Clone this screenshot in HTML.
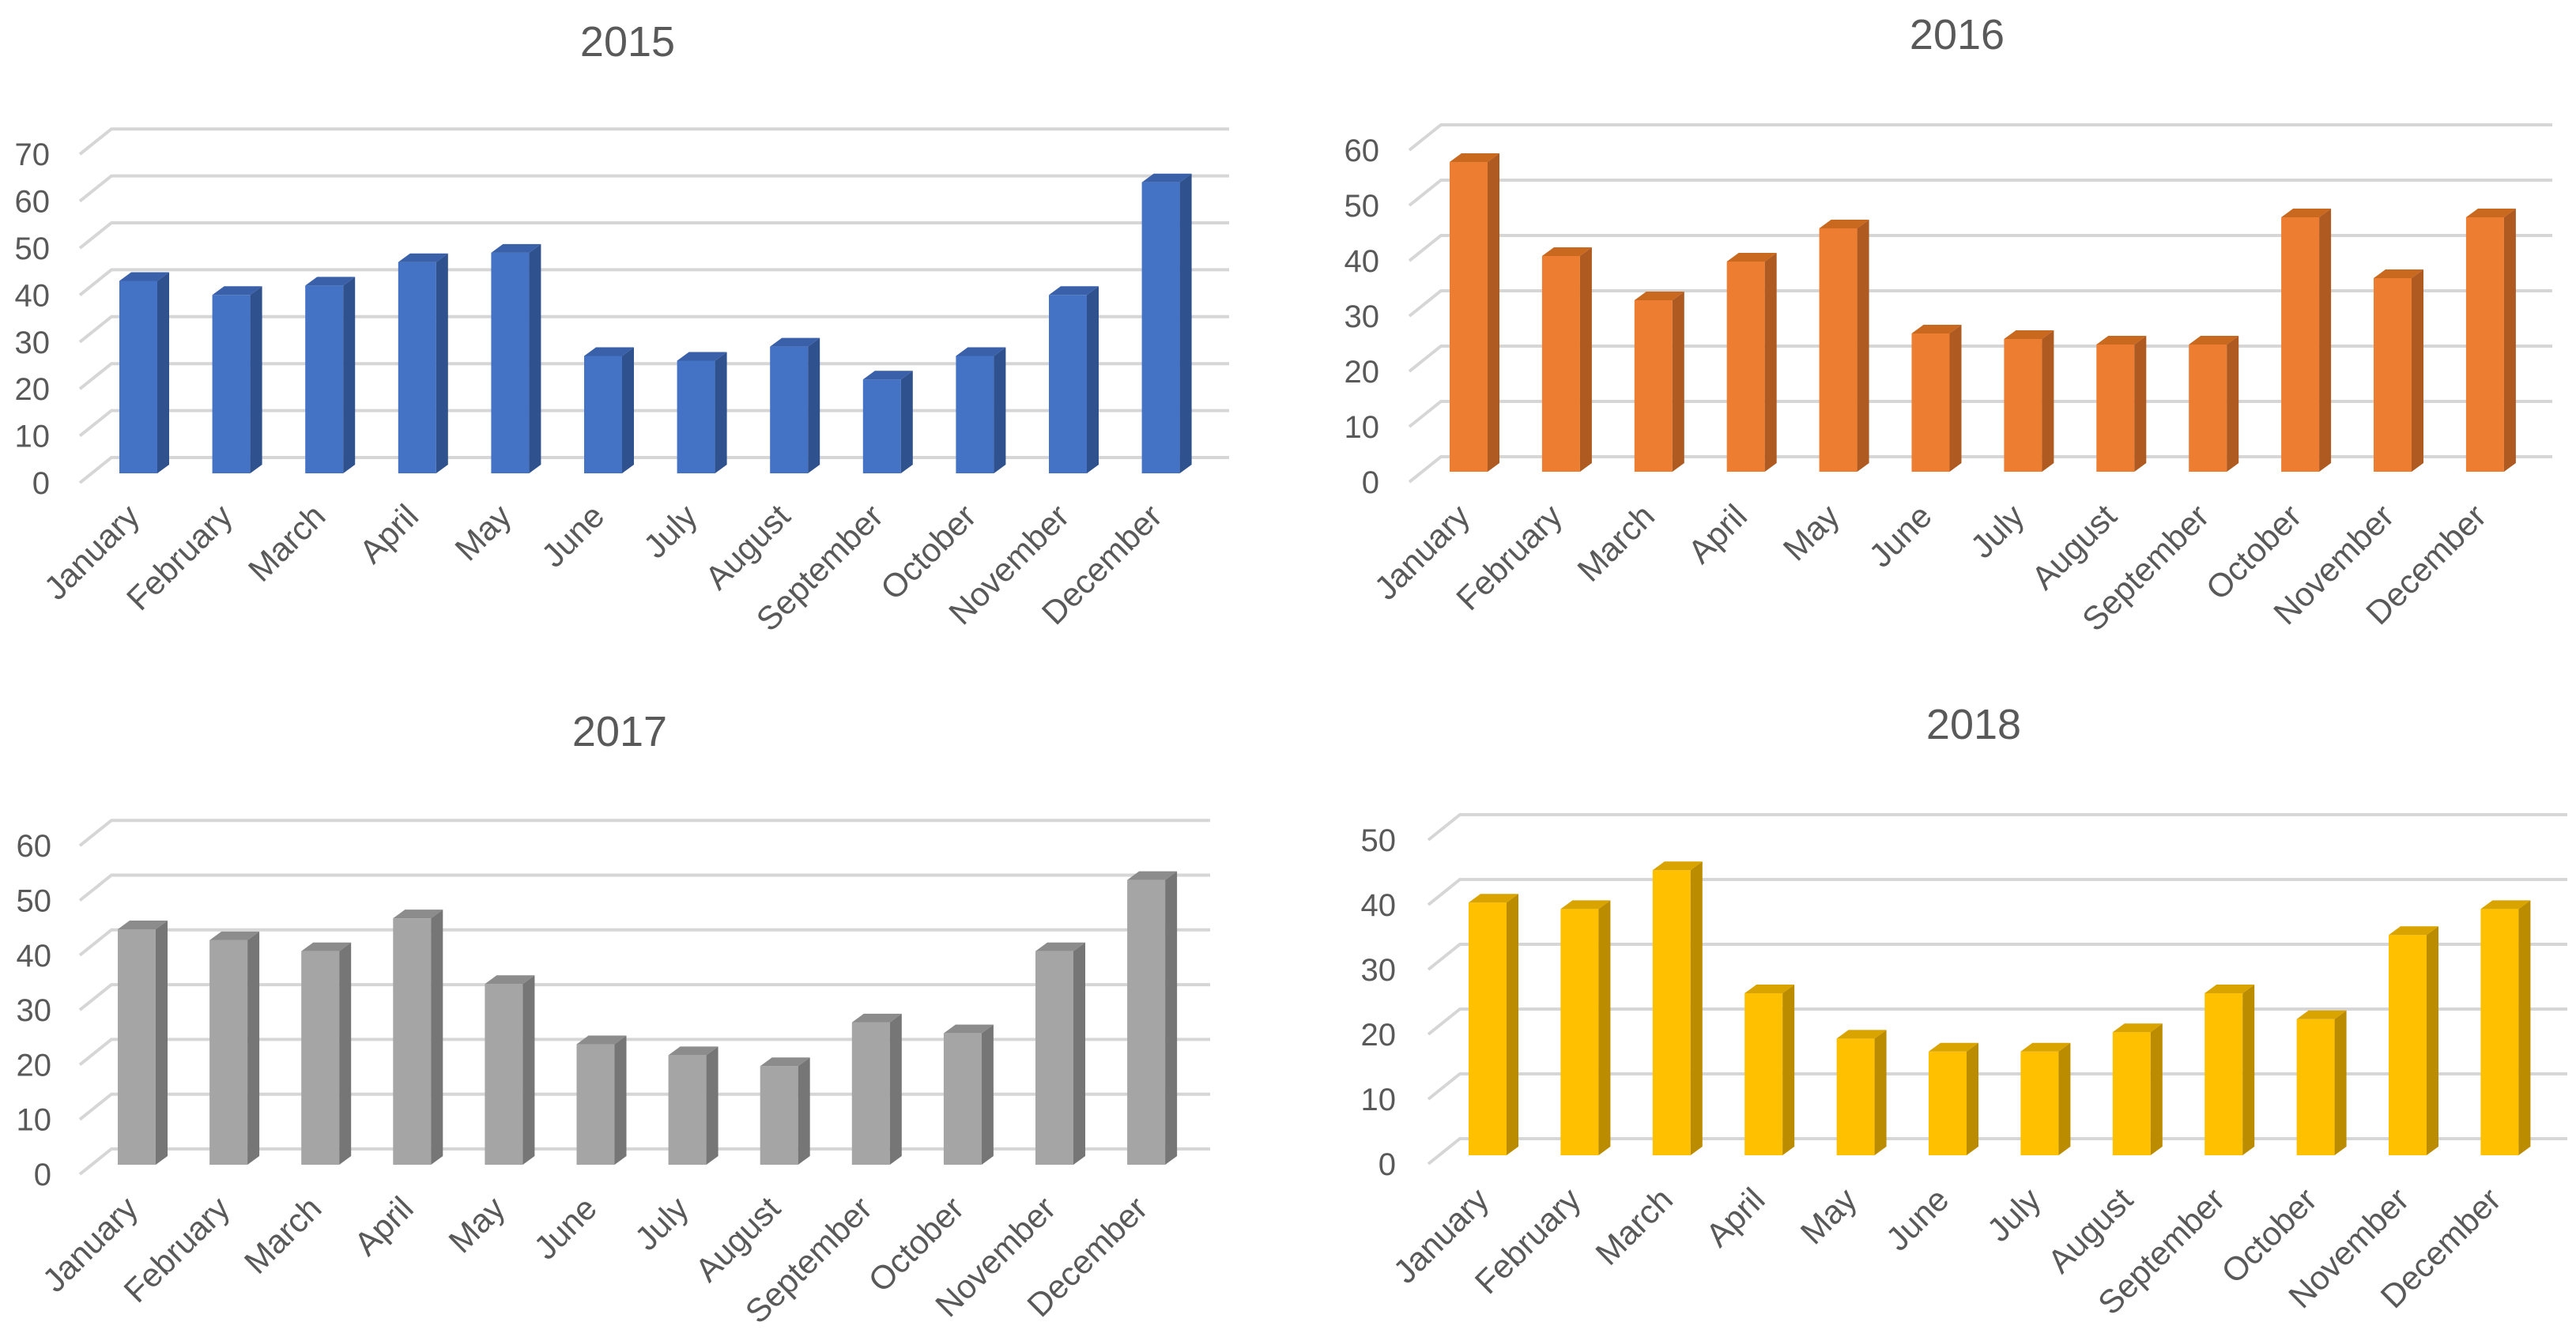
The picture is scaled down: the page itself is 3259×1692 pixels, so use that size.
<!DOCTYPE html>
<html><head><meta charset="utf-8">
<style>
html,body{margin:0;padding:0;background:#fff;width:3259px;height:1692px;overflow:hidden}
svg{display:block;font-family:"Liberation Sans",sans-serif}
</style></head>
<body>
<svg id="root" width="3259" height="1692" viewBox="0 0 3259 1692"></svg>
<script>
const months = ["January","February","March","April","May","June","July","August","September","October","November","December"];
const values2015 = [41,38,40,45,47,25,24,27,20,25,38,62];
const values2016 = [56,39,31,38,44,25,24,23,23,46,35,46];
const values2017 = [43,41,39,45,33,22,20,18,26,24,39,52];
const values2018 = [39,38,44,25,18,16,16,19,25,21,34,38];
const ticks2015 = [0,10,20,30,40,50,60,70];
const ticks2016 = [0,10,20,30,40,50,60];
const ticks2017 = [0,10,20,30,40,50,60];
const ticks2018 = [0,10,20,30,40,50];

const NS = "http://www.w3.org/2000/svg";
const root = document.getElementById("root");
function el(tag, attrs, parent){
  const e = document.createElementNS(NS, tag);
  for (const k in attrs) e.setAttribute(k, attrs[k]);
  (parent||root).appendChild(e);
  return e;
}

const charts = [
  {year:"2015", vals:values2015, ticks:ticks2015, titleX:794, titleY:52, back0:579, step:59.4, gx1:141, gx2:1555, base:599, bx0:151, bw:48, pitch:117.6, numX:63, labY:656, c:["#4472C4","#2F528F","#3960A8"]},
  {year:"2016", vals:values2016, ticks:ticks2016, titleX:2476, titleY:43, back0:578, step:70, gx1:1823, gx2:3229, base:597, bx0:1834, bw:48, pitch:116.9, numX:1745, labY:656, c:["#ED7D31","#AE5A21","#C9681F"]},
  {year:"2017", vals:values2017, ticks:ticks2017, titleX:784, titleY:925, back0:1454, step:69.3, gx1:141, gx2:1531, base:1474, bx0:149, bw:48, pitch:116.1, numX:65, labY:1532, c:["#A5A5A5","#767676","#8C8C8C"]},
  {year:"2018", vals:values2018, ticks:ticks2018, titleX:2497, titleY:916, back0:1441, step:82, gx1:1847, gx2:3248, base:1462, bx0:1858, bw:48, pitch:116.4, numX:1766, labY:1521, c:["#FFC000","#BC8C00","#D9A300"]}
];
const DX = 15, DY = 11, DIAGX = -40, DIAGY = 32;

charts.forEach(ch => {
  const g = el("g", {});
  
  
  const unit = ch.step / 10;
  const yBack = v => ch.back0 - v * unit;
  const yFront = v => ch.base - v * unit;
  const xBar = i => ch.bx0 + i * ch.pitch;

  const t = el("text", {x:ch.titleX, y:ch.titleY + 19, "text-anchor":"middle", "font-size":54, fill:"#595959"}, g);
  t.textContent = ch.year;
  
  

  ch.ticks.forEach(v => {
    const y = yBack(v);
    const gl = el("polyline", {points:`${ch.gx1+DIAGX},${y+DIAGY} ${ch.gx1},${y} ${ch.gx2},${y}`, fill:"none", stroke:"#D6D6D6", "stroke-width":4}, g);
    
    
    const tl = el("text", {x:ch.numX, y:y + DIAGY + 14, "text-anchor":"end", "font-size":40, fill:"#595959"}, g);
    tl.textContent = v;
    
    
  });

  ch.vals.forEach((v, i) => {
    const x = xBar(i), w = ch.bw, top = yFront(v), bot = ch.base;
    const bg = el("g", {}, g);
    
    
    el("rect", {x:x, y:top, width:w, height:bot - top, fill:ch.c[0]}, bg);
    el("polygon", {points:`${x+w},${top} ${x+w+DX},${top-DY} ${x+w+DX},${bot-DY} ${x+w},${bot}`, fill:ch.c[1]}, bg);
    el("polygon", {points:`${x},${top} ${x+w},${top} ${x+w+DX},${top-DY} ${x+DX},${top-DY}`, fill:ch.c[2]}, bg);
    const cx = x + w / 2 + 4;
    const ml = el("text", {x:cx, y:ch.labY, "text-anchor":"end", "font-size":42, fill:"#595959", transform:`rotate(-45 ${cx} ${ch.labY})`}, g);
    ml.textContent = months[i];
    
    
  });
});
</script>
</body></html>
